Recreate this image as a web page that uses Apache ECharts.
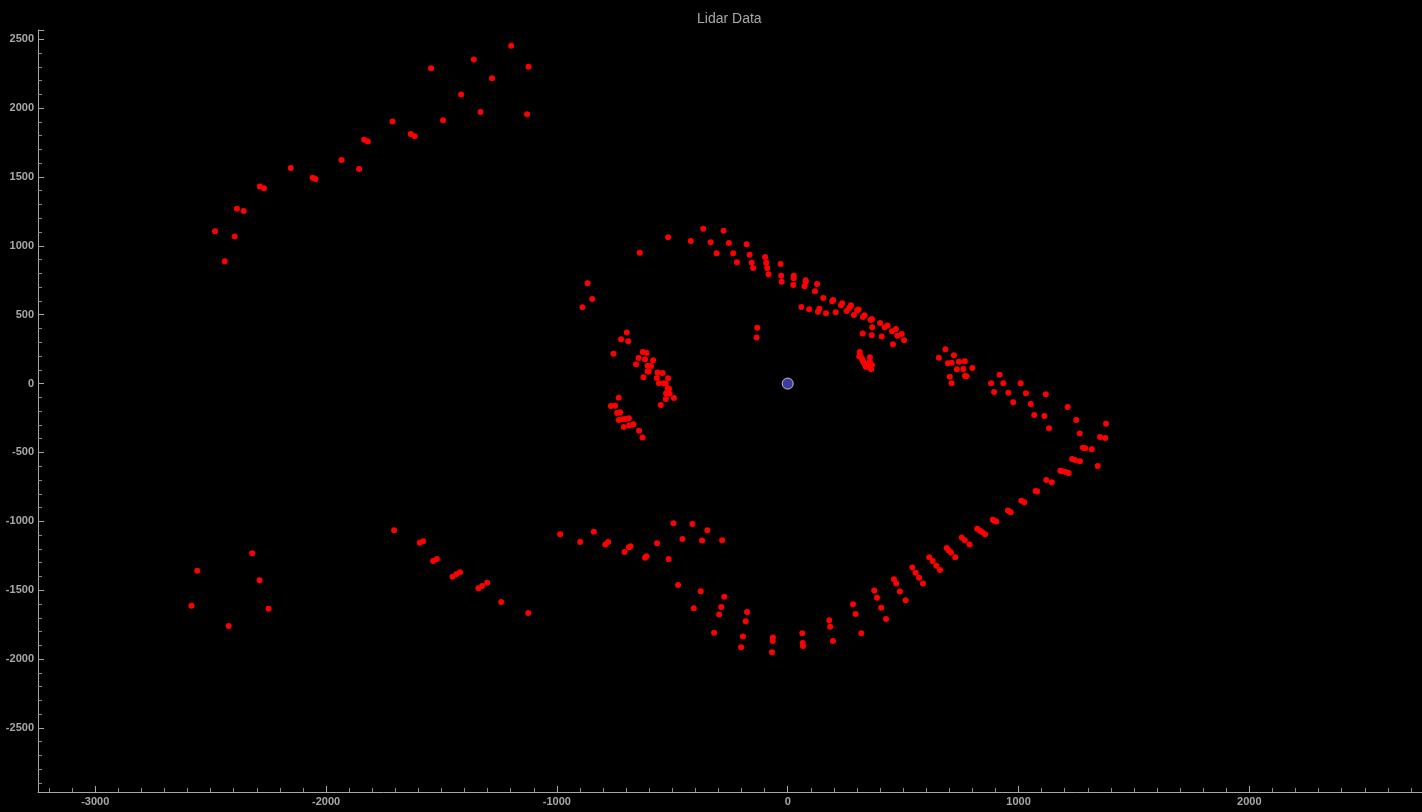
<!DOCTYPE html>
<html>
<head>
<meta charset="utf-8">
<script src="https://cdn.jsdelivr.net/npm/echarts@6/dist/echarts.min.js"></script>
<style>
html,body{margin:0;padding:0;background:#000;}
#chart{width:1422px;height:812px;}
</style>
</head>
<body>
<div id="chart"></div>
<script>
// ---- Data (x, y in lidar units) ----
const chartTitle = 'Lidar Data';
const xRange = [-3248, 2748];
const yRange = [-2965, 2567];

const topLeftWall = [[-1198,2453],[-1360,2352],[-1123,2301],[-1545,2289],[-1281,2217],[-1415,2098],[-1331,1972],[-1129,1955],[-1493,1912],[-1712,1902],[-1633,1812],[-1616,1796],[-1835,1771],[-1819,1757],[-1933,1624],[-1857,1558],[-2153,1566],[-2058,1495],[-2046,1486],[-2287,1430],[-2269,1418],[-2386,1270],[-2357,1253],[-2481,1106],[-2396,1067],[-2439,888]];

const bottomLeftCorner = [[-2558,-1358],[-2320,-1232],[-2288,-1428],[-2583,-1612],[-2249,-1634],[-2422,-1759]];

const bottomLeftWall = [[-1705,-1065],[-1594,-1155],[-1579,-1145],[-1536,-1288],[-1520,-1273],[-1452,-1402],[-1436,-1384],[-1420,-1370],[-1340,-1486],[-1324,-1469],[-1302,-1445],[-1241,-1585],[-1124,-1665]];

const bottomMiddle = [[-986,-1094],[-899,-1150],[-840,-1075],[-790,-1169],[-778,-1150],[-707,-1222],[-688,-1188],[-681,-1181],[-618,-1264],[-612,-1253],[-566,-1159],[-516,-1273],[-495,-1014],[-413,-1019],[-348,-1065],[-456,-1128],[-371,-1140],[-284,-1137],[-475,-1462],[-377,-1508],[-275,-1547],[-407,-1631],[-288,-1622],[-297,-1677],[-319,-1808]];

const bottomArc = [[-176,-1658],[-182,-1725],[-194,-1837],[-202,-1914],[-64,-1844],[-65,-1868],[-68,-1950],[63,-1812],[65,-1883],[66,-1905],[180,-1718],[184,-1765],[196,-1868],[283,-1602],[294,-1672],[319,-1812],[375,-1503],[387,-1554],[405,-1627],[426,-1709],[460,-1420],[470,-1452],[486,-1510]];

const bottomRightArc = [[511,-1573],[540,-1336],[554,-1373],[569,-1409],[586,-1452],[613,-1261],[628,-1288],[644,-1322],[660,-1353],[689,-1193],[697,-1210],[707,-1227],[726,-1261],[754,-1118],[767,-1137],[788,-1169],[821,-1053],[833,-1068],[843,-1079],[855,-1094],[888,-988],[895,-995],[904,-1002],[954,-922],[966,-934],[1012,-850],[1025,-861],[1074,-779],[1081,-784],[1120,-700],[1144,-716],[1181,-632],[1188,-636],[1204,-641],[1217,-649]];

const rightWall = [[683,249],[655,188],[720,206],[694,148],[710,152],[742,159],[767,162],[733,104],[761,106],[800,114],[702,50],[768,56],[775,53],[710,3],[918,65],[881,3],[934,3],[1009,3],[894,-61],[956,-66],[1032,-70],[1118,-77],[977,-135],[1053,-148],[1068,-228],[1112,-235],[1132,-324],[1213,-170],[1250,-264],[1265,-363],[1379,-291],[1353,-387],[1376,-395],[1279,-465],[1289,-469],[1317,-477],[1343,-598],[1232,-547],[1245,-554],[1266,-564]];

const upperArc = [[-366,1125],[-278,1110],[-518,1063],[-420,1036],[-334,1026],[-255,1021],[-178,1012],[-641,949],[-308,946],[-236,946],[-165,936],[-98,919],[-220,881],[-156,878],[-93,878],[-31,869],[-150,840],[-89,840],[-83,794],[-28,782],[-26,740],[26,782],[26,765],[24,716],[78,750],[78,740],[73,707],[127,723],[118,670],[154,622],[193,598],[197,607],[231,569],[236,583],[274,569],[267,551],[255,527],[287,498],[301,530],[307,537],[326,484],[333,496],[359,462],[365,469],[400,440],[420,409],[433,421],[452,380],[469,397],[475,348],[494,360],[504,315],[366,409],[325,363],[364,351],[407,341],[456,286],[59,556],[93,540],[131,522],[137,544],[166,511],[208,518]];

const middlePoints = [[-132,406],[-135,334]];

const leftUpper = [[-867,729],[-847,615],[-889,554]];

const leftCluster = [[-697,370],[-722,322],[-691,307],[-755,217],[-628,230],[-612,223],[-646,186],[-618,177],[-583,170],[-657,140],[-607,130],[-592,128],[-607,87],[-602,87],[-564,80],[-542,77],[-625,46],[-567,41],[-518,39],[-558,3],[-537,3],[-529,0],[-519,-34],[-514,-37],[-527,-70],[-512,-73],[-528,-111],[-493,-104],[-550,-155]];

const leftLower = [[-732,-102],[-766,-162],[-748,-160],[-739,-213],[-726,-208],[-732,-264],[-717,-259],[-704,-257],[-688,-252],[-710,-315],[-687,-305],[-668,-295],[-644,-342],[-629,-392]];

const rightCluster = [[312,230],[310,196],[316,196],[322,179],[326,162],[332,145],[338,123],[356,191],[356,159],[365,135],[361,104],[349,123]];

const sensorPosition = [[0,0]];

// ---- Chart ----
const lidarPoints = [].concat(topLeftWall, bottomLeftCorner, bottomLeftWall, bottomMiddle,
  bottomArc, bottomRightArc, rightWall, upperArc, middlePoints, leftUpper,
  leftCluster, leftLower, rightCluster);

const axisColor = '#a8a8a8';
const labelStyle = {color: '#a8a8a8', fontFamily: 'Liberation Sans, Arial, sans-serif', fontWeight: 'bold', fontSize: 11,
  formatter: function (v) { return String(v); }};

const chart = echarts.init(document.getElementById('chart'), null, {renderer: 'canvas'});
chart.setOption({
  backgroundColor: '#000000',
  animation: false,
  title: {
    text: chartTitle,
    left: 692,
    top: 7,
    textStyle: {color: '#a8a8a8', fontFamily: 'Liberation Sans, Arial, sans-serif', fontWeight: 'normal', fontSize: 14}
  },
  grid: {left: 38, right: 0, top: 30, bottom: 20, containLabel: false},
  xAxis: {
    type: 'value',
    min: xRange[0],
    max: xRange[1],
    splitNumber: 5,
    axisLine: {show: true, onZero: false, lineStyle: {color: axisColor, width: 1}},
    axisTick: {show: true, inside: true, length: 6, lineStyle: {color: axisColor}},
    minorTick: {show: true, splitNumber: 10, length: 4, lineStyle: {color: '#8a8a8a'}},
    splitLine: {show: false},
    axisLabel: Object.assign({margin: 4, showMinLabel: false, showMaxLabel: false}, labelStyle)
  },
  yAxis: {
    type: 'value',
    min: yRange[0],
    max: yRange[1],
    splitNumber: 10,
    axisLine: {show: true, onZero: false, lineStyle: {color: axisColor, width: 1}},
    axisTick: {show: true, inside: true, length: 6, lineStyle: {color: axisColor}},
    minorTick: {show: true, splitNumber: 5, length: 4, lineStyle: {color: '#8a8a8a'}},
    splitLine: {show: false},
    axisLabel: Object.assign({margin: 4, showMinLabel: false, showMaxLabel: false}, labelStyle)
  },
  series: [
    {
      type: 'scatter',
      data: lidarPoints,
      symbol: 'circle',
      symbolSize: 6,
      itemStyle: {color: '#ff0000', opacity: 1},
      silent: true
    },
    {
      type: 'scatter',
      data: sensorPosition,
      symbol: 'circle',
      symbolSize: 11,
      itemStyle: {color: '#3b3ba0', borderColor: '#c8c8c8', borderWidth: 1, opacity: 1},
      silent: true,
      z: 3
    }
  ]
});
</script>
</body>
</html>
